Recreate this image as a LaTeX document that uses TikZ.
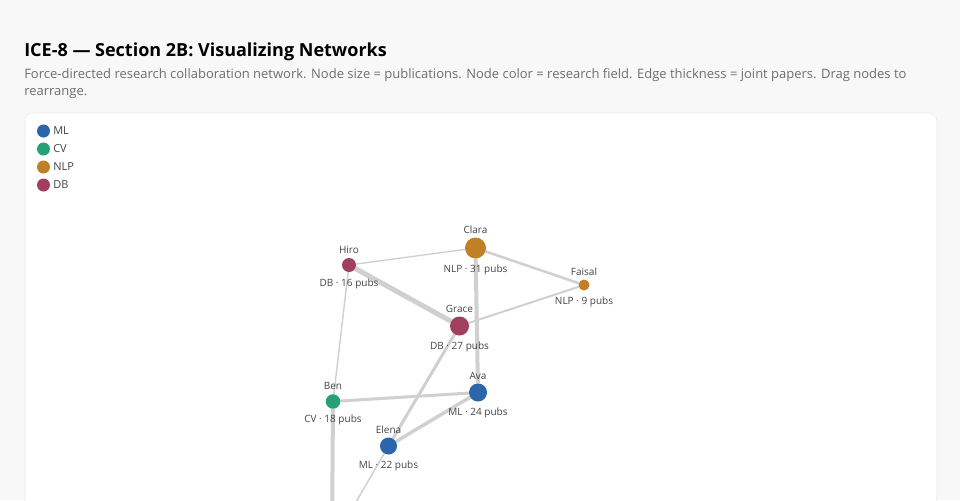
\documentclass[tikz,border=0pt]{standalone}
\usepackage{fontspec}
\setmainfont{Open Sans}
\usetikzlibrary{positioning}

\pgfdeclarelayer{edgelayer}
\pgfsetlayers{edgelayer,main}

\definecolor{pagebg}{HTML}{F8F8F8}
\definecolor{cardline}{HTML}{E8E8E8}
\definecolor{mlblue}{HTML}{2B66AA}
\definecolor{cvgreen}{HTML}{27A07A}
\definecolor{nlporange}{HTML}{C17F26}
\definecolor{dbmaroon}{HTML}{A13F5F}
\definecolor{linkgray}{HTML}{D0D0D0}
\definecolor{labeltext}{HTML}{444444}
\definecolor{subtext}{HTML}{6E6E6E}

\tikzset{
  author/.style={circle, inner sep=0pt, outer sep=0pt},
  namelbl/.style={font=\fontsize{7.5pt}{9pt}\selectfont, text=labeltext, inner sep=0pt, label distance=3pt},
  publbl/.style={font=\fontsize{7.5pt}{9pt}\selectfont, text=labeltext, inner sep=0pt, label distance=4.6pt},
  link/.style={draw=linkgray},
  subline/.style={anchor=base west, inner sep=0pt, text=subtext, font=\fontsize{9.75pt}{12.9pt}\selectfont},
  legendtxt/.style={font=\fontsize{8.25pt}{10pt}\selectfont, text=labeltext, inner sep=0pt, anchor=west}
}

\begin{document}
\begin{tikzpicture}[x=0.75pt,y=0.75pt,yscale=-1,xscale=1]
    \useasboundingbox (0,0) rectangle (960,500);

    % page and card
    \begin{pgfonlayer}{edgelayer}
    \fill[pagebg] (0,0) rectangle (960,500);
    \draw[draw=cardline, fill=white, rounded corners=6pt] (25,113) rectangle (937,540);
    \end{pgfonlayer}

    % Title and subtitle
    \node[anchor=base west, inner sep=0pt, font=\fontsize{13.5pt}{16pt}\selectfont\bfseries] (title) at (24,56) {ICE-8 — Section 2B: Visualizing Networks};
    \node[subline] (subtitle) at (24,78) {Force-directed research collaboration network. Node size = publications. Node color = research field. Edge thickness = joint papers. Drag nodes to};
    \node[subline] (subtitle2) at (24,95.5) {rearrange.};

    % Legend
    \foreach \col/\field [count=\i] in {mlblue/ML, cvgreen/CV, nlporange/NLP, dbmaroon/DB} {
      \fill[\col] (43.5,113+18*\i) circle (6.5);
      \node[legendtxt] (key-\i) at (53,113+18*\i) {\field};
    }

    % Authors
    \node[author, fill=nlporange, minimum size=15.75pt, label={[namelbl]above:Clara}, label={[publbl]below:NLP · 31 pubs}] (clara) at (475.5,248) {};
    \node[author, fill=dbmaroon, minimum size=10.5pt, label={[namelbl]above:Hiro}, label={[publbl]below:DB · 16 pubs}] (hiro) at (349,265) {};
    \node[author, fill=nlporange, minimum size=8.25pt, label={[namelbl]above:Faisal}, label={[publbl]below:NLP · 9 pubs}] (faisal) at (584,285) {};
    \node[author, fill=dbmaroon, minimum size=14.25pt, label={[namelbl]above:Grace}, label={[publbl]below:DB · 27 pubs}] (grace) at (459.5,326) {};
    \node[author, fill=mlblue, minimum size=13.5pt, label={[namelbl]above:Ava}, label={[publbl]below:ML · 24 pubs}] (ava) at (478,392.5) {};
    \node[author, fill=cvgreen, minimum size=10.9pt, label={[namelbl]above:Ben}, label={[publbl]below:CV · 18 pubs}] (ben) at (333,401.5) {};
    \node[author, fill=mlblue, minimum size=12.75pt, label={[namelbl]above:Elena}, label={[publbl]below:ML · 22 pubs}] (elena) at (388.5,446) {};

    % authors below the visible area
    \coordinate (benlow) at (332,540);
    \coordinate (elenalow) at (334,540);

    % Collaborations
    \begin{pgfonlayer}{edgelayer}
    \draw[link, line width=1pt] (hiro) -- (clara);
    \draw[link, line width=3.75pt] (hiro) -- (grace);
    \draw[link, line width=1.9pt] (clara) -- (faisal);
    \draw[link, line width=3pt] (clara) -- (ava);
    \draw[link, line width=1.5pt] (faisal) -- (grace);
    \draw[link, line width=2.25pt] (grace) -- (elena);
    \draw[link, line width=1.1pt] (hiro) -- (ben);
    \draw[link, line width=2.25pt] (ben) -- (ava);
    \draw[link, line width=2.6pt] (ava) -- (elena);
    \draw[link, line width=3pt] (ben) -- (benlow);
    \draw[link, line width=1.1pt] (elena) -- (elenalow);
    \end{pgfonlayer}

\end{tikzpicture}
\end{document}
